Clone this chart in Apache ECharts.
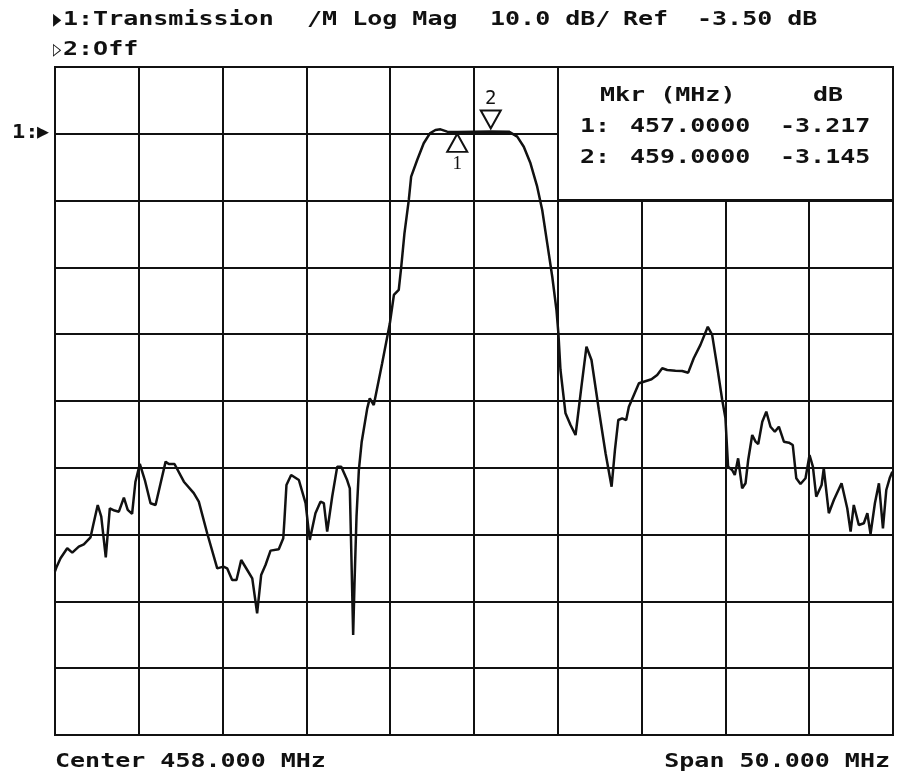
<!DOCTYPE html>
<html>
<head>
<meta charset="utf-8">
<script src="https://cdn.jsdelivr.net/npm/echarts@6/dist/echarts.min.js"></script>
<style>
  html, body { margin: 0; padding: 0; background: #fff; }
  #chart { width: 897px; height: 774px; }
</style>
</head>
<body>
<div id="chart"></div>
<script>
  // analyzer settings
  var CENTER_MHZ = 458.0;
  var SPAN_MHZ = 50.0;
  var REF_DB = -3.5;
  var SCALE_DB = 10.0;

  // trace 1: transmission
  var freqMHz = [
    433.0, 433.1, 433.33, 433.73, 434.03, 434.42, 434.72, 435.12, 435.28, 435.55,
    435.76, 436.03, 436.27, 436.55, 436.81, 437.11, 437.34, 437.6, 437.8, 438.06,
    438.36, 438.7, 439.0, 439.3, 439.6, 439.79, 440.13, 440.69, 441.28, 441.58,
    442.08, 442.68, 443.05, 443.27, 443.57, 443.83, 444.11, 444.47, 444.77, 445.06,
    445.3, 445.56, 445.86, 446.35, 446.62, 446.69, 446.81, 447.09, 447.55, 447.95,
    448.2, 448.54, 448.84, 449.04, 449.24, 449.54, 449.84, 450.08, 450.43, 450.59,
    450.69, 450.79, 450.87, 450.99, 451.13, 451.3, 451.63, 451.78, 452.02, 452.52,
    452.98, 453.22, 453.51, 453.66, 453.85, 454.11, 454.25, 454.61, 455.0, 455.37,
    455.7, 456.0, 456.4, 457.0, 458.0, 459.0, 460.08, 460.58, 460.97, 461.37,
    461.77, 462.07, 462.37, 462.67, 462.92, 463.04, 463.16, 463.46, 463.76, 464.06,
    464.41, 464.71, 465.01, 465.45, 465.85, 466.21, 466.41, 466.61, 466.84, 467.08,
    467.24, 467.54, 467.84, 468.13, 468.59, 468.93, 469.23, 469.53, 470.02, 470.42,
    470.78, 471.11, 471.51, 471.95, 472.21, 472.51, 472.81, 473.0, 473.16, 473.4,
    473.56, 473.76, 474.0, 474.2, 474.36, 474.6, 474.8, 474.96, 475.2, 475.44,
    475.69, 475.95, 476.19, 476.49, 476.79, 477.02, 477.23, 477.48, 477.78, 478.02,
    478.22, 478.42, 478.74, 478.87, 479.17, 479.47, 479.93, 480.27, 480.47, 480.66,
    480.96, 481.26, 481.47, 481.66, 481.92, 482.16, 482.4, 482.6, 482.8, 482.96
  ];
  var transDb = [
    -69.0, -68.3, -67.05, -65.55, -66.2, -65.3, -64.95, -63.9, -62.06, -59.07,
    -60.8, -66.9, -59.57, -59.9, -60.07, -57.97, -59.8, -60.4, -55.58, -52.93,
    -55.33, -58.8, -59.07, -55.8, -52.58, -52.93, -52.93, -55.58, -57.3, -58.57,
    -63.3, -68.55, -68.3, -68.55, -70.3, -70.3, -67.3, -68.8, -70.05, -75.28,
    -69.55, -68.05, -65.9, -65.7, -64.05, -61.3, -56.07, -54.58, -55.33, -58.8,
    -64.3, -60.3, -58.57, -58.8, -63.06, -57.8, -53.33, -53.33, -55.33, -56.57,
    -67.3, -78.53, -70.8, -60.8, -53.83, -49.6, -44.6, -43.1, -44.1, -37.86,
    -31.87, -27.63, -26.88, -23.4, -18.4, -13.4, -9.92, -7.42, -4.92, -3.43,
    -2.93, -2.83, -3.18, -3.217, -3.18, -3.145, -3.18, -3.93, -5.43, -7.92,
    -11.42, -14.9, -19.9, -24.9, -29.88, -33.5, -38.86, -45.35, -47.1, -48.59,
    -41.36, -35.37, -37.36, -44.85, -51.33, -56.33, -50.83, -46.34, -46.1, -46.34,
    -44.35, -42.6, -40.85, -40.61, -40.25, -39.6, -38.6, -38.86, -38.96, -39.0,
    -39.26, -37.1, -35.1, -32.38, -33.6, -38.36, -43.35, -46.0, -53.33, -53.83,
    -54.58, -52.08, -56.57, -55.82, -52.33, -48.59, -49.59, -49.94, -46.6, -45.1,
    -47.35, -48.1, -47.35, -49.59, -49.74, -50.09, -55.07, -55.92, -55.07, -51.58,
    -53.33, -57.83, -56.07, -53.57, -60.3, -58.32, -55.82, -59.56, -63.06, -59.07,
    -62.06, -61.8, -60.3, -63.41, -58.8, -55.82, -62.56, -56.82, -55.07, -54.08
  ];

  // markers
  var markerNames = ['1', '2'];
  var markerMHz = [457.0, 459.0];
  var markerDb = [-3.217, -3.145];

  // screen text
  var headerText = ['1:Transmission', '/M Log Mag', '10.0 dB/', 'Ref', '-3.50 dB'];
  var footerText = ['Center 458.000 MHz', 'Span 50.000 MHz'];

  var FONT = '"DejaVu Sans Mono", monospace';
  var INK = '#111';

  function txt(x, y, s, opts) {
    opts = opts || {};
    return {
      type: 'text', x: x, y: y, z: 110,
      scaleX: opts.sx == null ? 1.25 : opts.sx,
      style: {
        text: s,
        font: (opts.weight || '600') + ' ' + (opts.size || 20) + 'px ' + (opts.family || FONT),
        fill: INK,
        align: opts.align || 'left',
        verticalAlign: 'middle'
      }
    };
  }

  // axes are in divisions offset from centre / reference
  var points = freqMHz.map(function (f, i) {
    return [f - CENTER_MHZ, transDb[i] - REF_DB];
  });

  var markData = markerNames.map(function (n, i) {
    var up = i === 0;
    return {
      name: n,
      coord: [markerMHz[i] - CENTER_MHZ, markerDb[i] - REF_DB],
      symbol: up ? 'path://M10,0 L20,18 L0,18 Z' : 'path://M0,0 L20,0 L10,18 Z',
      symbolSize: [20, 18],
      symbolOffset: up ? [0, 11] : [0, -12],
      label: {
        show: true,
        formatter: n,
        position: up ? 'bottom' : 'top',
        distance: up ? 2 : 1,
        color: INK,
        fontSize: 19,
        fontFamily: up ? '"Liberation Serif", serif' : FONT
      }
    };
  });

  var gridLine = { show: true, lineStyle: { color: INK, width: 2 } };

  var chart = echarts.init(document.getElementById('chart'));
  chart.setOption({
    animation: false,
    backgroundColor: '#fff',
    grid: {
      left: 55, top: 67, width: 838, height: 668,
      show: true, borderColor: INK, borderWidth: 2
    },
    xAxis: {
      type: 'value',
      min: -SPAN_MHZ / 2, max: SPAN_MHZ / 2, interval: SPAN_MHZ / 10,
      axisLine: { show: false }, axisTick: { show: false }, axisLabel: { show: false },
      splitLine: gridLine
    },
    yAxis: {
      type: 'value',
      min: -9 * SCALE_DB, max: SCALE_DB, interval: SCALE_DB,
      axisLine: { show: false }, axisTick: { show: false }, axisLabel: { show: false },
      splitLine: gridLine
    },
    series: [{
      type: 'line',
      data: points,
      symbol: 'none',
      lineStyle: { color: INK, width: 2.5 },
      markPoint: {
        data: markData,
        itemStyle: { color: '#fff', borderColor: INK, borderWidth: 2 }
      }
    }],
    graphic: [
      // marker table box
      {
        type: 'rect', z: 100,
        shape: { x: 558, y: 67, width: 335, height: 133 },
        style: { fill: '#fff', stroke: INK, lineWidth: 2 }
      },
      txt(53, 20, '\u25B6', { sx: 0.62, size: 22 }),
      txt(63, 20, headerText[0]),
      txt(307, 20, headerText[1]),
      txt(490, 20, headerText[2]),
      txt(623, 20, headerText[3]),
      txt(697, 20, headerText[4]),
      txt(53, 50, '\u25B7', { sx: 0.62, size: 22 }),
      txt(63, 50, '2:Off'),
      txt(12, 133, '1:', { sx: 1.1 }),
      txt(37, 133, '\u25B6', { sx: 1, size: 20 }),
      txt(600, 96, 'Mkr (MHz)'),
      txt(813, 96, 'dB'),
      txt(580, 127, markerNames[0] + ':'),
      txt(630, 127, markerMHz[0].toFixed(4)),
      txt(780, 127, markerDb[0].toFixed(3)),
      txt(580, 158, markerNames[1] + ':'),
      txt(630, 158, markerMHz[1].toFixed(4)),
      txt(780, 158, markerDb[1].toFixed(3)),
      txt(55, 762, footerText[0]),
      txt(890, 762, footerText[1], { align: 'right' })
    ]
  });
</script>
</body>
</html>
